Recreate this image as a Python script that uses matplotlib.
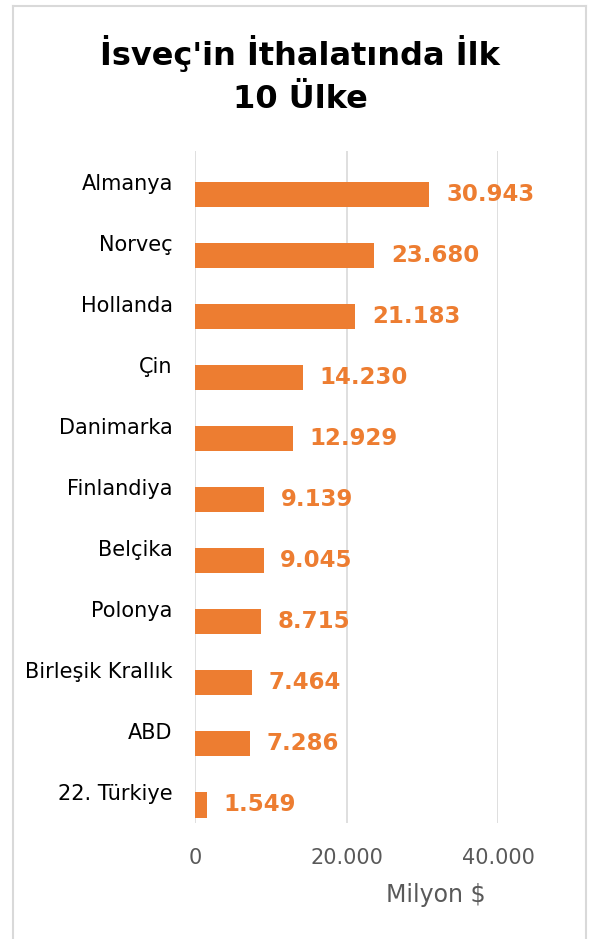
import matplotlib.pyplot as plt
from matplotlib.lines import Line2D

# Data (Milyon $)
countries = ["Almanya", "Norveç", "Hollanda", "Çin", "Danimarka", "Finlandiya",
             "Belçika", "Polonya", "Birleşik Krallık", "ABD", "22. Türkiye"]
values = [30943, 23680, 21183, 14230, 12929, 9139, 9045, 8715, 7464, 7286, 1549]
value_labels = ["30.943", "23.680", "21.183", "14.230", "12.929", "9.139",
                "9.045", "8.715", "7.464", "7.286", "1.549"]
xticks = [0, 20000, 40000]
xtick_labels = ["0", "20.000", "40.000"]

W, H = 589, 939
orange = "#ED7D31"
gray_text = "#595959"
grid_col = "#D9D9D9"

fig = plt.figure(figsize=(W / 100, H / 100), dpi=100)
ax = fig.add_axes([195 / W, (H - 823) / H, (498 - 195) / W, (823 - 151) / H])

pos = list(range(len(countries)))
bar_h = 0.41
# bars sit in the lower half of each category band (second series slot)
ax.barh([p + bar_h / 2 for p in pos], values, height=bar_h, color=orange, zorder=3)

ax.set_ylim(len(countries) - 0.5, -0.5)
ax.set_xlim(0, 40000)
ax.set_yticks(pos)
ax.set_yticklabels(countries, fontsize=15, color="#000000")
ax.set_xticks(xticks)
ax.set_xticklabels(xtick_labels, fontsize=15, color=gray_text)
ax.tick_params(axis="y", length=0, pad=16)
ax.tick_params(axis="x", length=0, pad=18)

ax.grid(axis="x", color=grid_col, linewidth=1.2, zorder=0)
for s in ax.spines.values():
    s.set_visible(False)

for p, v, lab in zip(pos, values, value_labels):
    ax.annotate(lab, (v, p + bar_h / 2), xytext=(12, 0), textcoords="offset points",
                va="center", ha="left", fontsize=16.5, fontweight="bold", color=orange)

fig.text(436 / W, 1 - 895 / H, "Milyon $", fontsize=17, color=gray_text,
         ha="center", va="center")

fig.text(300 / W, 1 - 65 / H, "İsveç'in İthalatında İlk", fontsize=23,
         fontweight="bold", ha="center", va="baseline")
fig.text(300 / W, 1 - 108 / H, "10 Ülke", fontsize=23,
         fontweight="bold", ha="center", va="baseline")

# chart border
x0, x1, y0 = 13 / W, 586 / W, 1 - 6 / H
for xs, ys in [([x0, x0], [0, y0]), ([x0, x1], [y0, y0]), ([x1, x1], [y0, 0])]:
    fig.add_artist(Line2D(xs, ys, color=grid_col, linewidth=1.5))

fig.savefig("out.png", dpi=100)
